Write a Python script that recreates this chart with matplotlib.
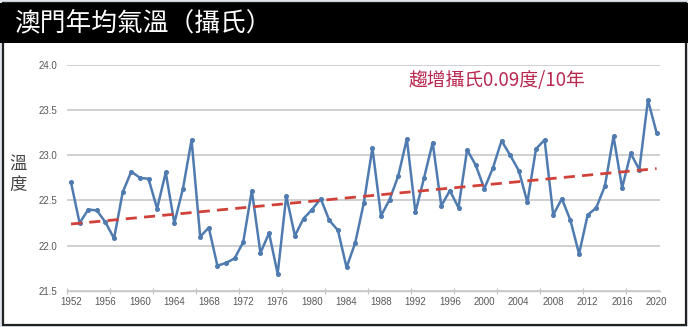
import numpy as np
import matplotlib
matplotlib.use('Agg')
import matplotlib.pyplot as plt
from matplotlib.patches import Rectangle

plt.rcParams['font.family'] = ['Noto Sans CJK TC', 'DejaVu Sans']

# annual mean temperature, Macau (deg C)
years = np.arange(1952, 2021)
temps = [22.70, 22.25, 22.40, 22.39, 22.26, 22.08, 22.59, 22.82, 22.75, 22.74,
         22.41, 22.81, 22.25, 22.63, 23.17, 22.10, 22.20, 21.78, 21.81, 21.86,
         22.04, 22.61, 21.92, 22.14, 21.69, 22.55, 22.11, 22.30, 22.40, 22.52,
         22.28, 22.17, 21.76, 22.03, 22.47, 23.08, 22.33, 22.51, 22.77, 23.18,
         22.37, 22.75, 23.14, 22.44, 22.61, 22.42, 23.06, 22.89, 22.63, 22.86,
         23.16, 23.00, 22.83, 22.48, 23.07, 23.17, 22.34, 22.52, 22.28, 21.91,
         22.34, 22.42, 22.66, 23.21, 22.64, 23.02, 22.84, 23.61, 23.25]

trend_start = 22.24      # trend value in 1952
trend_rate = 0.09        # deg C per 10 years
label_years = np.arange(1952, 2021, 4)
tick_marks = np.arange(1951.5, 2020, 5)
y_ticks = [21.5, 22.0, 22.5, 23.0, 23.5, 24.0]

title = '澳門年均氣溫（攝氏）'
note = '趨增攝氏0.09度/10年'
ylab = '溫\n度'

W, H = 688, 327
fig = plt.figure(figsize=(W / 100, H / 100), dpi=100)
fig.patch.set_facecolor('white')

# page background, header bar and frame
fig.add_artist(Rectangle((0, 0), 1, 1, transform=fig.transFigure,
                         facecolor='#dfe4ec', edgecolor='none', zorder=-3))
fig.add_artist(Rectangle((3 / W, 2 / H), 683 / W, 322 / H, transform=fig.transFigure,
                         facecolor='white', edgecolor='#222222', linewidth=1.6, zorder=-2))
fig.add_artist(Rectangle((0, 1 - 43 / H), 1, 39.5 / H, transform=fig.transFigure,
                         facecolor='black', edgecolor='none', zorder=-1))
fig.text(14 / W, 1 - 23 / H, title, color='white', fontsize=18.5,
         ha='left', va='center')
fig.text(18 / W, 1 - 174 / H, ylab, color='#444444', fontsize=12.5,
         ha='center', va='center', linespacing=1.25)

ax = fig.add_axes([66.7 / W, (H - 291) / H, (660 - 66.7) / W, (291 - 64.7) / H])
ax.set_xlim(1951.5, 2020.4)
ax.set_ylim(21.5, 24.0)

ax.plot(years, temps, color='#4f7bb0', linewidth=1.8, marker='o',
        markersize=2.6, zorder=3)
trend = trend_start + trend_rate / 10 * (years - years[0])
ax.plot(years, trend, color='#d0413a', linewidth=2.0, linestyle=(0, (4, 2.6)),
        zorder=4)

ax.set_yticks(y_ticks)
ax.set_yticklabels(['%.1f' % v for v in y_ticks])
ax.set_xticks(label_years)
ax.set_xticklabels([str(y) for y in label_years])
ax.set_xticks(tick_marks, minor=True)
ax.tick_params(axis='both', which='major', length=0, labelsize=7,
               labelcolor='#595959')
ax.tick_params(axis='y', pad=7)
ax.tick_params(axis='x', which='major', pad=4)
ax.tick_params(axis='x', which='minor', direction='inout', length=5,
               width=0.8, color='#bfbfbf')
for lab in ax.get_xticklabels() + ax.get_yticklabels():
    lab.set_family(['Liberation Sans Narrow', 'Liberation Sans'])

ax.grid(axis='y', color='#c8c8c8', linewidth=1.2)
ax.set_axisbelow(True)
for s in ['top', 'right', 'left']:
    ax.spines[s].set_visible(False)
ax.spines['bottom'].set_color('#c8c8c8')
ax.spines['bottom'].set_linewidth(1.0)

ax.text(2001.5, 23.83, note, color='#b8284f', fontsize=13.5,
        ha='center', va='center')

fig.savefig('out.png', dpi=100)
